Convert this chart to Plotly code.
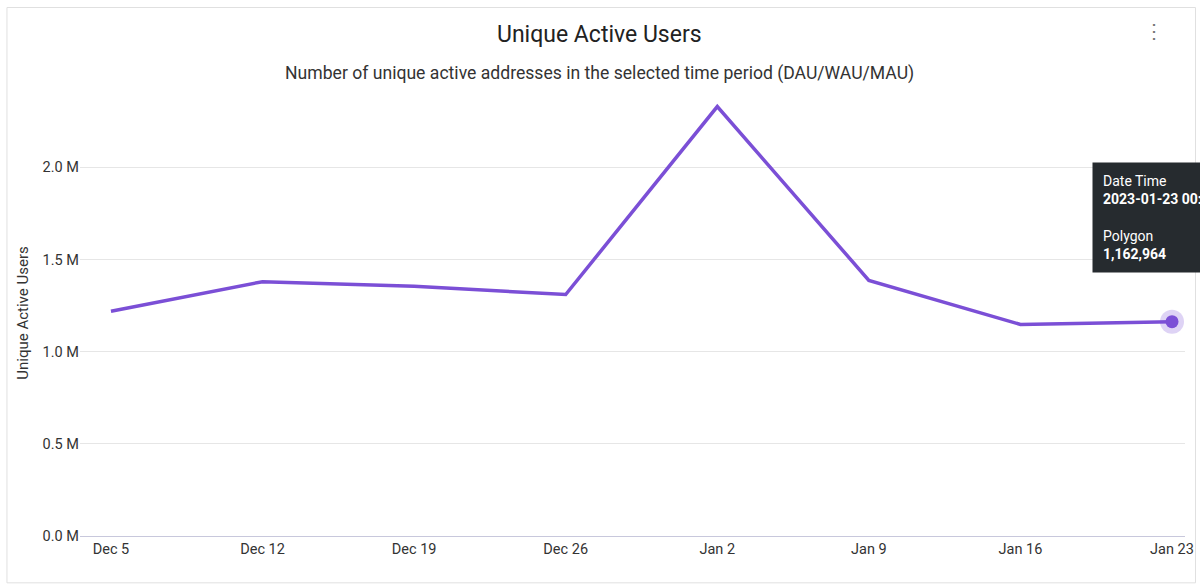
import plotly.graph_objects as go
from datetime import datetime, timedelta

dates = ["2022-12-05","2022-12-12","2022-12-19","2022-12-26","2023-01-02","2023-01-09","2023-01-16","2023-01-23"]
users = [1220000, 1380000, 1355000, 1310000, 2330000, 1387000, 1148000, 1162964]
tick_labels = ["Dec 5","Dec 12","Dec 19","Dec 26","Jan 2","Jan 9","Jan 16","Jan 23"]

color = "#7b4fd6"
fig = go.Figure()
fig.add_trace(go.Scatter(x=dates, y=users, mode="lines", line=dict(color=color, width=3.5), hoverinfo="skip"))
fig.add_trace(go.Scatter(x=[dates[-1]], y=[users[-1]], mode="markers",
                         marker=dict(size=24, color="rgba(123,79,214,0.25)"), hoverinfo="skip", cliponaxis=False))
fig.add_trace(go.Scatter(x=[dates[-1]], y=[users[-1]], mode="markers",
                         marker=dict(size=13, color=color), hoverinfo="skip", cliponaxis=False))

x0 = datetime(2022,12,5) - timedelta(days=1.43)
x1 = datetime(2023,1,23) + timedelta(days=0.6)
cx = (599-80)/1105
fig.update_layout(
    width=1200, height=588, showlegend=False,
    paper_bgcolor="white", plot_bgcolor="white",
    margin=dict(l=80, r=15, t=90, b=52, autoexpand=False),
    font=dict(family="Roboto", color="#444", size=14),
    xaxis=dict(range=[x0, x1], tickvals=dates, ticktext=tick_labels, showgrid=False, automargin=False,
               showline=True, linecolor="#c8c8dc", linewidth=1, ticks="", tickfont=dict(size=14.5, color="#333")),
    yaxis=dict(range=[0, 2420000], tickvals=[0,500000,1000000,1500000,2000000],
               ticktext=["0.0 M","0.5 M","1.0 M","1.5 M","2.0 M"], gridcolor="#e6e6e6",
               zeroline=False, title=dict(text="Unique Active Users", font=dict(size=15, color="#333"), standoff=10),
               tickfont=dict(size=14.5, color="#333")),
    shapes=[dict(type="rect", xref="paper", yref="paper", x0=-0.0661, x1=1.0095, y0=-0.105, y1=1.185,
                 line=dict(color="#e0e0e0", width=1), layer="below")],
    annotations=[
        dict(text="Unique Active Users", xref="paper", yref="paper", x=cx, y=1.0+ (90-35)/446, yanchor="middle",
             showarrow=False, font=dict(size=23, color="#222")),
        dict(text="Number of unique active addresses in the selected time period (DAU/WAU/MAU)", xref="paper", yref="paper",
             x=cx, y=1.0+(90-73)/446, yanchor="middle", showarrow=False, font=dict(size=17.6, color="#333")),
        dict(text="⋮", xref="paper", yref="paper", x=(1166-80)/1105, y=1.0+(90-31)/446, yanchor="middle",
             showarrow=False, font=dict(size=20, color="#777")),
        dict(text="Date Time<br><b>2023-01-23 00:00</b><br><br>Polygon<br><b>1,162,964</b>", xref="paper", yref="paper",
             x=(1092-80)/1105, y=(536-162)/446, xanchor="left", yanchor="top", align="left", showarrow=False,
             bgcolor="#262b2f", borderpad=10, font=dict(size=14, color="white")),
    ],
)
fig.write_html("out.html", config={"displayModeBar": False})
with open("out.html", encoding="utf-8") as f:
    html = f.read()
html = html.replace("<body>", "<body style=\"margin:0;overflow:hidden\">", 1)
with open("out.html", "w", encoding="utf-8") as f:
    f.write(html)
